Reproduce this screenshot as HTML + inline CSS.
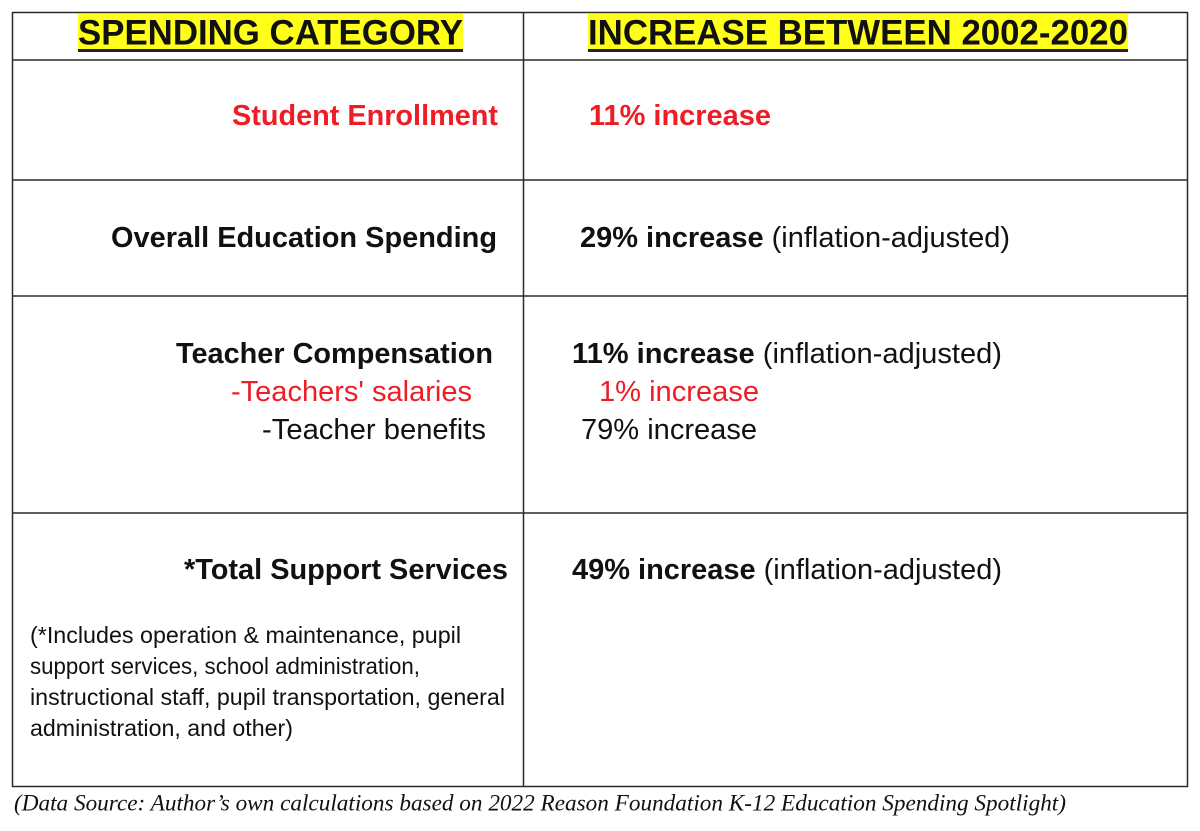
<!DOCTYPE html>
<html><head><meta charset="utf-8"><style>
html,body{margin:0;padding:0;background:#fff;width:1200px;height:831px;overflow:hidden}
svg{display:block}
text{font-family:"Liberation Sans",Arial,sans-serif;dominant-baseline:central}
.b{font-weight:bold}
.r{fill:#ee1c25}
.k{fill:#111}
</style></head><body>
<svg width="1200" height="831" viewBox="0 0 1200 831">
<rect x="0" y="0" width="1200" height="831" fill="#fff"/>
<g stroke="#2a2a2a" stroke-width="1.5" fill="none">
<rect x="12.5" y="12.5" width="1175" height="774"/>
<line x1="523.5" y1="12" x2="523.5" y2="787"/>
<line x1="12" y1="60" x2="1188" y2="60"/>
<line x1="12" y1="180" x2="1188" y2="180"/>
<line x1="12" y1="296" x2="1188" y2="296"/>
<line x1="12" y1="513" x2="1188" y2="513"/>
</g>
<rect x="78" y="14" width="385" height="38" fill="#ffff1a"/>
<rect x="588" y="14" width="540" height="38" fill="#ffff1a"/>
<rect x="78" y="49" width="385" height="3" fill="#222"/>
<rect x="588" y="49" width="540" height="3" fill="#222"/>
<text x="78" y="33" class="b k" font-size="35" textLength="385" lengthAdjust="spacingAndGlyphs">SPENDING CATEGORY</text>
<text x="588" y="33" class="b k" font-size="35" textLength="540" lengthAdjust="spacingAndGlyphs">INCREASE BETWEEN 2002-2020</text>

<text x="232" y="116" class="b r" font-size="29" textLength="266" lengthAdjust="spacingAndGlyphs">Student Enrollment</text>
<text x="589" y="116" class="b r" font-size="29" textLength="182" lengthAdjust="spacingAndGlyphs">11% increase</text>

<text x="111" y="238" class="b k" font-size="29" textLength="386" lengthAdjust="spacingAndGlyphs">Overall Education Spending</text>
<text x="580" y="238" class="k" font-size="29" textLength="430" lengthAdjust="spacingAndGlyphs"><tspan class="b">29% increase</tspan> (inflation-adjusted)</text>

<text x="176" y="354" class="b k" font-size="29" textLength="317" lengthAdjust="spacingAndGlyphs">Teacher Compensation</text>
<text x="572" y="354" class="k" font-size="29" textLength="430" lengthAdjust="spacingAndGlyphs"><tspan class="b">11% increase</tspan> (inflation-adjusted)</text>
<text x="231" y="392" class="r" font-size="29" textLength="241" lengthAdjust="spacingAndGlyphs">-Teachers' salaries</text>
<text x="599" y="392" class="r" font-size="29" textLength="160" lengthAdjust="spacingAndGlyphs">1% increase</text>
<text x="262" y="430" class="k" font-size="29" textLength="224" lengthAdjust="spacingAndGlyphs">-Teacher benefits</text>
<text x="581" y="430" class="k" font-size="29" textLength="176" lengthAdjust="spacingAndGlyphs">79% increase</text>

<text x="184" y="570" class="b k" font-size="29" textLength="324" lengthAdjust="spacingAndGlyphs">*Total Support Services</text>
<text x="572" y="570" class="k" font-size="29" textLength="430" lengthAdjust="spacingAndGlyphs"><tspan class="b">49% increase</tspan> (inflation-adjusted)</text>

<g class="k" font-size="23">
<text x="30" y="635" textLength="431" lengthAdjust="spacingAndGlyphs">(*Includes operation &amp; maintenance, pupil</text>
<text x="30" y="666" textLength="390" lengthAdjust="spacingAndGlyphs">support services, school administration,</text>
<text x="30" y="697" textLength="475" lengthAdjust="spacingAndGlyphs">instructional staff, pupil transportation, general</text>
<text x="30" y="728" textLength="263" lengthAdjust="spacingAndGlyphs">administration, and other)</text>
</g>

<text x="14" y="803" font-size="23" font-style="italic" style="font-family:'Liberation Serif','Times New Roman',serif" fill="#111" textLength="1052" lengthAdjust="spacingAndGlyphs">(Data Source: Author’s own calculations based on 2022 Reason Foundation K-12 Education Spending Spotlight)</text>
</svg>
</body></html>
